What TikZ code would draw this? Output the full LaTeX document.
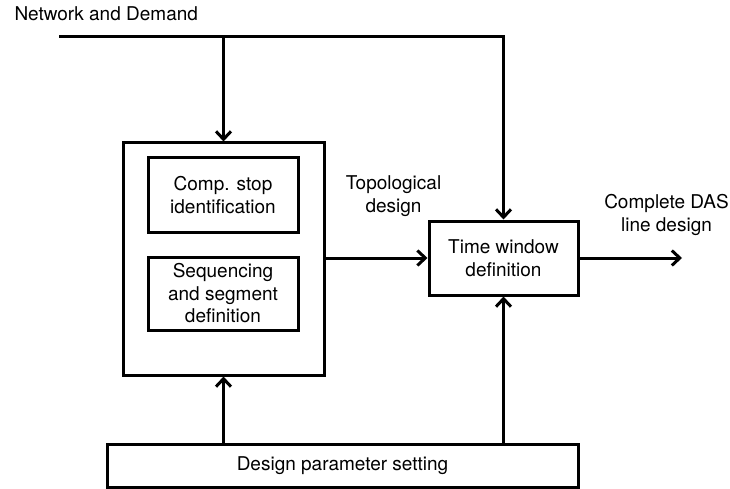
\documentclass[tikz,border=0pt]{standalone}
\usepackage{fontspec}
\setmainfont{TeX Gyre Heros}
\usetikzlibrary{arrows.meta,positioning}

\begin{document}
\begin{tikzpicture}[x=1pt,y=-1pt,->,>={Straight Barb[length=8pt,width=15pt]},line width=3pt,
  box/.style={draw,align=center,inner sep=0pt,font=\fontsize{19}{22.5}\selectfont},
  lbl/.style={align=center,inner sep=0pt,font=\fontsize{19}{22.5}\selectfont}]
  \useasboundingbox (0,0) rectangle (730,489);
  \node[lbl,anchor=west] (net) at (13,14) {Network and Demand};
  \node[box,minimum width=201,minimum height=232] (outer) at (223.5,259) {};
  \node[box,minimum width=150,minimum height=74] (stop) at (223,195) {Comp. stop\\identification};
  \node[box,minimum width=150,minimum height=73] (seq) at (223,293.5) {Sequencing\\and segment\\definition};
  \node[box,minimum width=149,minimum height=74] (tw) at (503.5,258) {Time window\\definition};
  \node[box,minimum width=471,minimum height=43] (param) at (342.5,465.5) {Design parameter setting};
  \node[lbl] (topo) at (393.5,196) {Topological\\design};
  \node[lbl] (das) at (666.5,215) {Complete DAS\\line design};
  \coordinate (in) at (59,37);
  \coordinate (out) at (682,257);
  %
  \draw (in) -- (tw.north |- in) -- (tw.north);
  \draw (outer.north |- in) -- (outer.north);
  \draw (outer.east |- tw) -- (tw.west);
  \draw (tw.east) -- (tw.east -| out);
  \draw (param.north -| outer.south) -- (outer.south);
  \draw (param.north -| tw.south) -- (tw.south);
\end{tikzpicture}
\end{document}
